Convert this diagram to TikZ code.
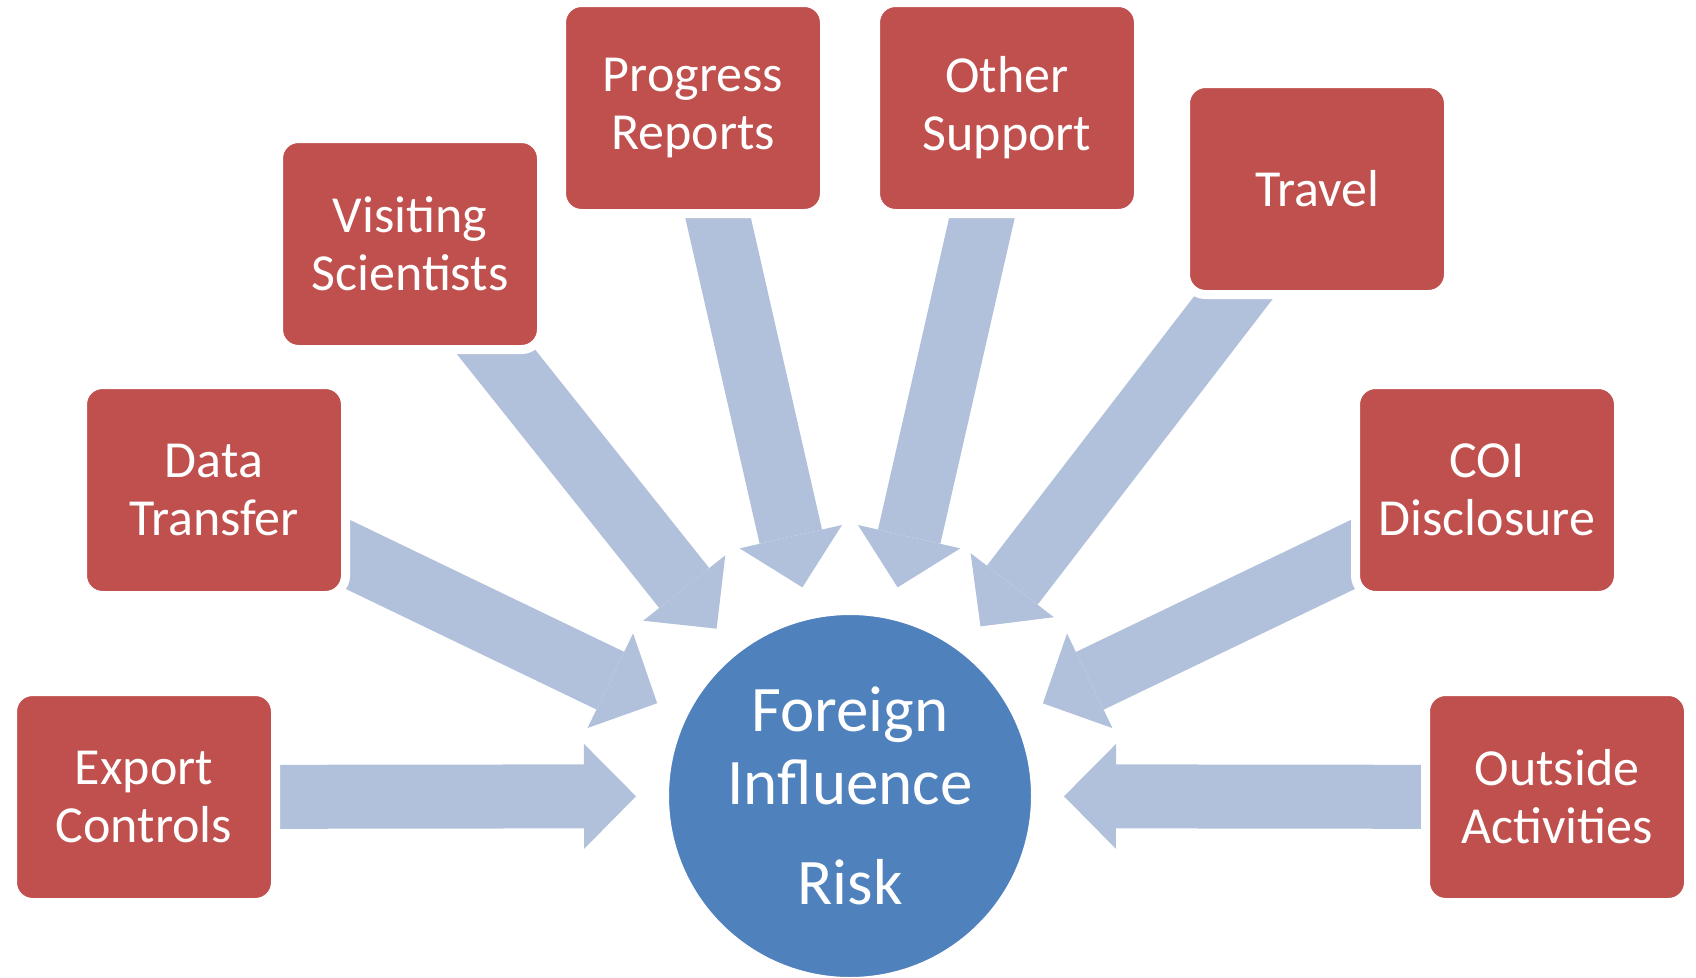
\documentclass[tikz,border=0pt]{standalone}
\usepackage{fontspec}
\setmainfont{Carlito}
\usetikzlibrary{arrows.meta,backgrounds}
\definecolor{boxred}{HTML}{C0504D}
\definecolor{riskblue}{HTML}{4F81BD}
\definecolor{pushblue}{HTML}{B2C1DB}

\begin{document}
\begin{tikzpicture}[x=1pt,y=-1pt,
    factor/.style={rectangle,rounded corners=20pt,fill=boxred,draw=white,line width=9pt,
      minimum width=263pt,minimum height=211pt,align=center,text=white,
      font=\fontsize{52}{58}\selectfont},
    risk/.style={circle,fill=riskblue,draw=white,line width=3pt,minimum size=365pt,
      align=center,text=white,font=\fontsize{65}{73}\selectfont},
    push/.style={draw=pushblue,line width=64pt,
      -{Triangle[length=52pt,width=105pt,line width=0pt,fill=pushblue]},
      shorten >=30pt}]
  \useasboundingbox (0,0) rectangle (1696,977);
  \node[risk] (O) at (850,796) {Foreign\\Influence\\[27pt]Risk};
  \node[factor] (Ex) at (144,797) {Export\\Controls};
  \node[factor] (Da) at (214,490) {Data\\Transfer};
  \node[factor] (Vi) at (410,244) {Visiting\\Scientists};
  \node[factor] (Pr) at (693,108) {Progress\\Reports};
  \node[factor] (Ot) at (1007,108) {Other\\Support};
  \node[factor] (Tr) at (1317,189) {Travel};
  \node[factor] (Co) at (1487,490) {COI\\Disclosure};
  \node[factor] (Ou) at (1557,797) {Outside\\Activities};
  \begin{scope}[on background layer]
    \foreach \n in {Ex,Da,Vi,Pr,Ot,Tr,Co,Ou}
      \draw[push] (\n.center) -- (O);
  \end{scope}
\end{tikzpicture}
\end{document}
